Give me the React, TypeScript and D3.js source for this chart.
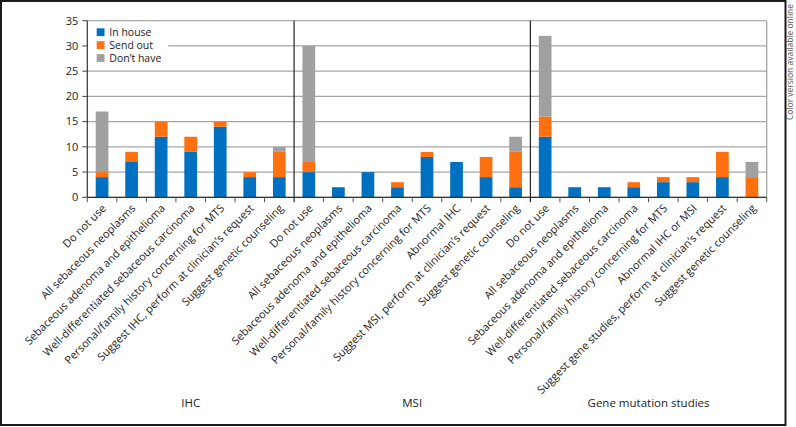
// @ts-nocheck
import { useRef, useEffect } from "react";
import * as d3 from "d3";

const groups = ["IHC", "MSI", "Gene mutation studies"];

const ihcCategories = [
  "Do not use",
  "All sebaceous neoplasms",
  "Sebaceous adenoma and epithelioma",
  "Well-differentiated sebaceous carcinoma",
  "Personal/family history concerning for MTS",
  "Suggest IHC, perform at clinician’s request",
  "Suggest genetic counseling",
];
const msiCategories = [
  "Do not use",
  "All sebaceous neoplasms",
  "Sebaceous adenoma and epithelioma",
  "Well-differentiated sebaceous carcinoma",
  "Personal/family history concerning for MTS",
  "Abnormal IHC",
  "Suggest MSI, perform at clinician’s request",
  "Suggest genetic counseling",
];
const geneCategories = [
  "Do not use",
  "All sebaceous neoplasms",
  "Sebaceous adenoma and epithelioma",
  "Well-differentiated sebaceous carcinoma",
  "Personal/family history concerning for MTS",
  "Abnormal IHC or MSI",
  "Suggest gene studies, perform at clinician’s request",
  "Suggest genetic counseling",
];

const seriesNames = ["In house", "Send out", "Don’t have"];
const seriesColors = ["#0070c0", "#ff7010", "#a0a0a0"];

const ihcInHouse = [4, 7, 12, 9, 14, 4, 4];
const ihcSendOut = [1, 2, 3, 3, 1, 1, 5];
const ihcDontHave = [12, 0, 0, 0, 0, 0, 1];

const msiInHouse = [5, 2, 5, 2, 8, 7, 4, 2];
const msiSendOut = [2, 0, 0, 1, 1, 0, 4, 7];
const msiDontHave = [23, 0, 0, 0, 0, 0, 0, 3];

const geneInHouse = [12, 2, 2, 2, 3, 3, 4, 0];
const geneSendOut = [4, 0, 0, 1, 1, 1, 5, 4];
const geneDontHave = [16, 0, 0, 0, 0, 0, 0, 3];

const yTicks = [0, 5, 10, 15, 20, 25, 30, 35];

const Chart = () => {
  const svgRef = useRef();

  useEffect(() => {
    const width = 796;
    const height = 427;
    const svg = d3.select(svgRef.current);
    svg.selectAll("*").remove();

    const left = 87.3;
    const right = 766.7;
    const top = 20.7;
    const bottom = 197.3;
    const font = "'Open Sans', 'Noto Sans', sans-serif";

    const groupData = [
      { name: groups[0], cats: ihcCategories, s: [ihcInHouse, ihcSendOut, ihcDontHave] },
      { name: groups[1], cats: msiCategories, s: [msiInHouse, msiSendOut, msiDontHave] },
      { name: groups[2], cats: geneCategories, s: [geneInHouse, geneSendOut, geneDontHave] },
    ];

    const rows = [];
    groupData.forEach((g, gi) => {
      g.cats.forEach((c, i) => {
        rows.push({
          key: `${gi}-${i}`,
          group: gi,
          label: c,
          v: [g.s[0][i], g.s[1][i], g.s[2][i]],
        });
      });
    });

    const x = d3
      .scaleBand()
      .domain(rows.map((d) => d.key))
      .range([left, right])
      .paddingInner(0.57)
      .paddingOuter(0.285);

    const y = d3.scaleLinear().domain([0, 35]).range([bottom, top]);
    const step = x.step();
    const edge = (i) => left + i * step;

    svg.attr("width", width).attr("height", height);

    // outer frame
    svg
      .append("rect")
      .attr("x", 1)
      .attr("y", 1)
      .attr("width", 784.5)
      .attr("height", 424)
      .attr("fill", "white")
      .attr("stroke", "#1a1a1a")
      .attr("stroke-width", 2);

    // gridlines + y ticks
    yTicks.forEach((t) => {
      svg
        .append("line")
        .attr("x1", left)
        .attr("x2", right)
        .attr("y1", y(t))
        .attr("y2", y(t))
        .attr("stroke", "#a6a6a6")
        .attr("stroke-width", 1.3);
      svg
        .append("line")
        .attr("x1", left - 5)
        .attr("x2", left)
        .attr("y1", y(t))
        .attr("y2", y(t))
        .attr("stroke", "#444")
        .attr("stroke-width", 1);
      svg
        .append("text")
        .attr("x", left - 9)
        .attr("y", y(t))
        .attr("dy", "0.35em")
        .attr("text-anchor", "end")
        .attr("font-family", font)
        .attr("font-size", 11)
        .attr("fill", "#222")
        .text(t);
    });

    // right border of plot
    svg
      .append("line")
      .attr("x1", right)
      .attr("x2", right)
      .attr("y1", top)
      .attr("y2", bottom)
      .attr("stroke", "#a6a6a6")
      .attr("stroke-width", 1.3);

    // stacked bars
    rows.forEach((d) => {
      let acc = 0;
      d.v.forEach((val, si) => {
        if (val > 0) {
          svg
            .append("rect")
            .attr("x", x(d.key))
            .attr("width", x.bandwidth())
            .attr("y", y(acc + val))
            .attr("height", y(acc) - y(acc + val))
            .attr("fill", seriesColors[si]);
        }
        acc += val;
      });
    });

    // axes
    svg
      .append("line")
      .attr("x1", left)
      .attr("x2", left)
      .attr("y1", top)
      .attr("y2", bottom)
      .attr("stroke", "#333")
      .attr("stroke-width", 1.2);
    svg
      .append("line")
      .attr("x1", left)
      .attr("x2", right)
      .attr("y1", bottom)
      .attr("y2", bottom)
      .attr("stroke", "#333")
      .attr("stroke-width", 1.2);

    // x ticks and group separators
    let boundaries = [0];
    let count = 0;
    groupData.forEach((g) => {
      count += g.cats.length;
      boundaries.push(count);
    });
    for (let i = 0; i <= rows.length; i++) {
      const isSep = boundaries.includes(i) && i > 0 && i < rows.length;
      svg
        .append("line")
        .attr("x1", edge(i))
        .attr("x2", edge(i))
        .attr("y1", isSep ? top : bottom)
        .attr("y2", bottom + 5)
        .attr("stroke", isSep ? "#222" : "#555")
        .attr("stroke-width", isSep ? 1.2 : 1);
    }

    // x labels
    rows.forEach((d) => {
      const cx = x(d.key) + x.bandwidth() / 2;
      svg
        .append("text")
        .attr("transform", `translate(${cx + 2},${bottom + 9}) rotate(-45)`)
        .attr("dy", "0.35em")
        .attr("text-anchor", "end")
        .attr("font-family", font)
        .attr("font-size", 11)
        .attr("fill", "#222")
        .text(d.label);
    });

    // group labels
    groupData.forEach((g, gi) => {
      const cx = (edge(boundaries[gi]) + edge(boundaries[gi + 1])) / 2;
      svg
        .append("text")
        .attr("x", cx)
        .attr("y", 407)
        .attr("text-anchor", "middle")
        .attr("font-family", font)
        .attr("font-size", 11.5)
        .attr("fill", "#222")
        .text(g.name);
    });

    // legend
    const legend = svg.append("g");
    legend
      .append("rect")
      .attr("x", left + 1)
      .attr("y", 23)
      .attr("width", 80)
      .attr("height", 42)
      .attr("fill", "white");
    seriesNames.forEach((name, i) => {
      const ly = 28.3 + i * 12.9;
      legend
        .append("rect")
        .attr("x", 96.7)
        .attr("y", ly)
        .attr("width", 7.8)
        .attr("height", 7.8)
        .attr("fill", seriesColors[i]);
      legend
        .append("text")
        .attr("x", 109.3)
        .attr("y", ly + 3.9)
        .attr("dy", "0.35em")
        .attr("font-family", font)
        .attr("font-size", 10.5)
        .attr("fill", "#222")
        .text(name);
    });

    // side note
    svg
      .append("text")
      .attr("transform", "translate(793,120) rotate(-90)")
      .attr("font-family", font)
      .attr("font-size", 8.8)
      .attr("textLength", 116)
      .attr("lengthAdjust", "spacingAndGlyphs")
      .attr("fill", "#555")
      .text("Color version available online");
  }, []);

  return (
    <svg
      ref={svgRef}
      style={{ position: "absolute", left: 0, top: 0, display: "block" }}
    ></svg>
  );
};

export default function App() {
  return <Chart />;
}
